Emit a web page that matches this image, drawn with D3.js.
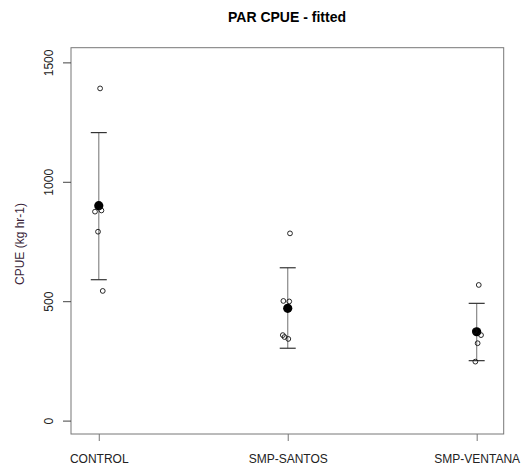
<!DOCTYPE html>
<html><head><meta charset="utf-8">
<script src="https://cdn.jsdelivr.net/npm/d3@7"></script>
<style>body{margin:0;background:#fff}svg{display:block}text{font-family:"Liberation Sans",Arial,sans-serif}</style>
</head><body><svg id="c" width="523" height="470"></svg>
<script>
const categories = ["CONTROL", "SMP-SANTOS", "SMP-VENTANA"];
const fittedMean = [900, 470, 372];
const ciLower = [590, 303, 251];
const ciUpper = [1206, 640, 491];
// observed points: category index, value, small horizontal jitter (category units)
const obsGroup = [0, 0, 0, 0, 0, 1, 1, 1, 1, 1, 1, 2, 2, 2, 2, 2];
const obsValue = [1391, 875, 880, 791, 543, 784, 501, 499, 358, 350, 342, 568, 375, 358, 324, 247];
const obsJitter = [0.007, -0.02, 0.014, -0.004, 0.021, 0.012, -0.023, 0.008, -0.026, -0.017, 0.003, 0.011, -0.01, 0.023, 0.005, -0.007];
const yTicks = [0, 500, 1000, 1500];

const svg = d3.select("#c");
const x = d3.scaleLinear().domain([0.853, 3.143]).range([71, 503.7]);
const y = d3.scaleLinear().domain([-56.1, 1561.5]).range([434, 47.7]);

// title
svg.append("text").attr("x", 287).attr("y", 22).attr("text-anchor", "middle")
  .attr("font-size", 14).attr("font-weight", "bold").attr("fill", "#000").text("PAR CPUE - fitted");

// box
svg.append("rect").attr("x", 71).attr("y", 47.7).attr("width", 503.7 - 71).attr("height", 434 - 47.7)
  .attr("fill", "none").attr("stroke", "#777").attr("stroke-width", 1);

// y axis
const ya = svg.append("g").attr("transform", "translate(71,0)")
  .call(d3.axisLeft(y).tickValues(yTicks).tickSize(8).tickFormat(d3.format("d")));
ya.select(".domain").remove();
ya.selectAll(".tick line").attr("stroke", "#444");
ya.selectAll(".tick text").attr("font-size", 12).attr("fill", "#222")
  .attr("x", null).attr("dy", null).attr("text-anchor", "middle")
  .attr("transform", "translate(-18,0) rotate(-90)");

// x axis
const xa = svg.append("g").attr("transform", "translate(0,434)")
  .call(d3.axisBottom(x).tickValues([1, 2, 3]).tickSize(7).tickFormat(d => categories[d - 1]));
xa.select(".domain").remove();
xa.selectAll(".tick line").attr("stroke", "#777");
xa.selectAll(".tick text").attr("font-size", 12).attr("fill", "#222").attr("y", 29).attr("dy", null);

// y label
svg.append("text").attr("transform", "translate(24,244) rotate(-90)").attr("text-anchor", "middle")
  .attr("font-size", 12).attr("fill", "#3a1f3a").text("CPUE (kg hr-1)");

// error bars
const eb = svg.append("g");
categories.forEach((c, i) => {
  const cx = x(i + 1);
  eb.append("line").attr("x1", cx).attr("x2", cx).attr("y1", y(ciLower[i])).attr("y2", y(ciUpper[i]))
    .attr("stroke", "#888").attr("stroke-width", 1.2);
  [ciLower[i], ciUpper[i]].forEach(v => {
    eb.append("line").attr("x1", cx - 8).attr("x2", cx + 8).attr("y1", y(v)).attr("y2", y(v))
      .attr("stroke", "#333").attr("stroke-width", 1.2);
  });
});

// fitted means
svg.append("g").selectAll("circle").data(fittedMean).join("circle")
  .attr("cx", (d, i) => x(i + 1)).attr("cy", d => y(d)).attr("r", 4.6).attr("fill", "#000");

// observed points
svg.append("g").selectAll("circle").data(obsValue).join("circle")
  .attr("cx", (d, i) => x(obsGroup[i] + 1 + obsJitter[i])).attr("cy", d => y(d)).attr("r", 2.4)
  .attr("fill", "none").attr("stroke", "#111").attr("stroke-width", 0.9);
</script></body></html>
